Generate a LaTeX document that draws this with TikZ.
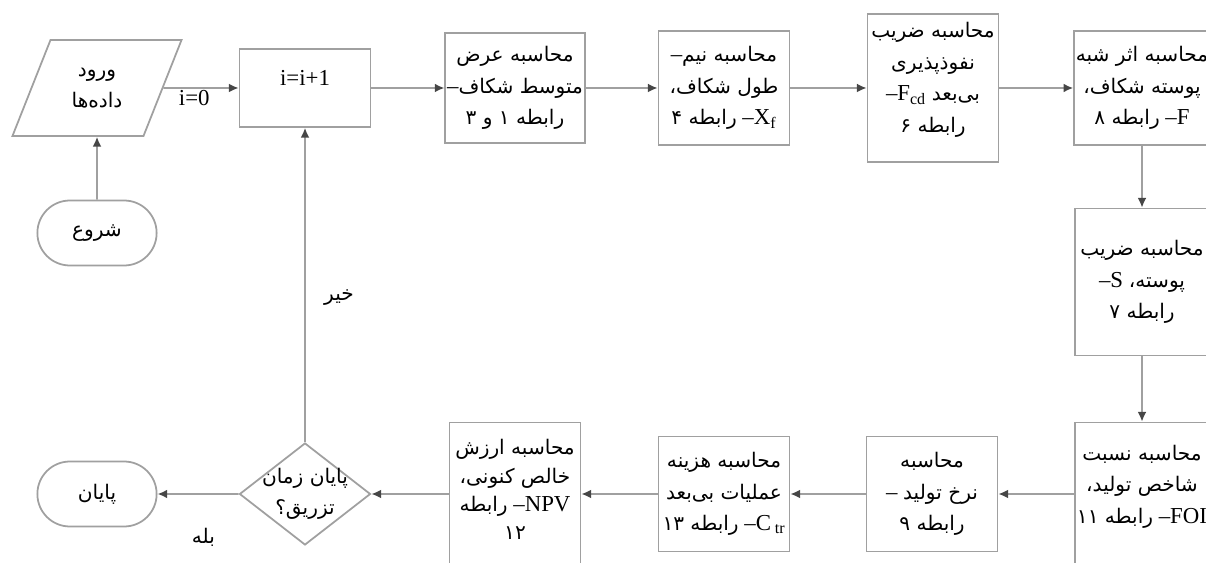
\documentclass[tikz,border=0pt]{standalone}
\usepackage{fontspec}
\setmainfont{Liberation Serif}
\newfontfamily\farsifont[Script=Arabic,Scale=0.88]{DejaVu Sans}
\TeXXeTstate=1
\usetikzlibrary{shapes.geometric,shapes.misc,arrows.meta}
\definecolor{linegray}{RGB}{160,160,160}
\definecolor{tipgray}{RGB}{70,70,70}
\newcommand\fa[1]{{\farsifont\beginR #1\endR}}
\tikzset{
	box/.style={draw=linegray,line width=1pt,fill=white,align=center,minimum width=2.62cm,inner sep=1pt},
	term/.style={draw=linegray,line width=1pt,rounded rectangle,minimum width=2.62cm,minimum height=1.3cm},
	arr/.style={draw=linegray,line width=1pt,-{Latex[length=5.5pt,width=5pt,color=tipgray]}},
}

\begin{document}
\begin{tikzpicture}[x=0.02cm,y=-0.02cm,font=\fontsize{13}{18}\selectfont]
	\useasboundingbox (0,0) rectangle (1206,563);
	\node[term] (start) at (97,233) {\fa{شروع}};
	\node[draw=linegray,line width=1pt,trapezium,trapezium left angle=64,trapezium right angle=116,trapezium stretches=true,minimum width=3.4cm,minimum height=1.92cm,align=center] (in) at (97,88) {\fa{ورود}\\\fa{داده‌ها}};
	\node[box,minimum height=1.56cm] (inc) at (305,88) {i=i+1\\[-6pt]\mbox{}};
	\node[box,minimum height=2.2cm] (b3) at (515,88) {\fa{محاسبه عرض}\\–\fa{متوسط شکاف}\\\fa{رابطه ۱ و ۳}};
	\node[box,minimum height=2.28cm] (b4) at (724,88) {–\fa{محاسبه نیم}\\\fa{طول شکاف،}\\\fa{رابطه ۴} –X\textsubscript{f}};
	\node[box,minimum height=2.96cm] (b5) at (933,88) {\fa{محاسبه ضریب}\\\fa{نفوذپذیری}\\–F\textsubscript{cd} \fa{بی‌بعد}\\\fa{رابطه ۶}\\[-6pt]\mbox{}};
	\node[box,minimum width=2.68cm,minimum height=2.28cm] (b6) at (1142,88) {\fa{محاسبه اثر شبه}\\\fa{پوسته شکاف،}\\\fa{رابطه ۸} –F};
	\node[box,minimum width=2.68cm,minimum height=2.94cm] (b7) at (1142,282) {\fa{محاسبه ضریب}\\–S \fa{پوسته،}\\\fa{رابطه ۷}};
	\node[box,minimum width=2.68cm,minimum height=3.1cm] (b8) at (1142,500) {\fa{محاسبه نسبت}\\\fa{شاخص تولید،}\\\fa{رابطه ۱۱} –FOI\\\mbox{}};
	\node[box,minimum height=2.3cm] (b9) at (932,494) {\fa{محاسبه}\\– \fa{نرخ تولید}\\\fa{رابطه ۹}};
	\node[box,minimum height=2.3cm] (b10) at (724,494) {\fa{محاسبه هزینه}\\\fa{عملیات بی‌بعد}\\\fa{رابطه ۱۳} –C\,\textsubscript{tr}};
	\node[box,minimum height=3.1cm,font=\fontsize{13}{16}\selectfont] (b11) at (515,500) {\fa{محاسبه ارزش}\\\fa{خالص کنونی،}\\\fa{رابطه} –NPV\\\fa{۱۲}\\[-4pt]\mbox{}};
	\node[draw=linegray,line width=1pt,diamond,fill=white,inner sep=0pt,minimum width=2.62cm,minimum height=2.04cm] (dec) at (305,494) {};
	\node[align=center] (dectext) at (dec) {\fa{پایان زمان}\\\fa{تزریق؟}};
	\node[term] (end) at (97,494) {\fa{پایان}};
	\draw[arr] (start) -- (in);
	\draw[arr] (in) -- node[below,inner sep=1pt,pos=0.41] {i=0} (inc);
	\draw[arr] (inc) -- (b3);
	\draw[arr] (b3) -- (b4);
	\draw[arr] (b4) -- (b5);
	\draw[arr] (b5) -- (b6);
	\draw[arr] (b6) -- (b7);
	\draw[arr] (b7) -- (b8);
	\draw[arr] (b8.west |- b9) -- (b9);
	\draw[arr] (b9) -- (b10);
	\draw[arr] (b10) -- (b10 -| b11.east);
	\draw[arr] (b11.west |- dec) -- (dec);
	\draw[arr] (dec) -- node[below=0.55cm,xshift=3pt] {\fa{بله}} (end);
	\draw[arr] (dec) -- node[right=0.25cm,pos=0.46] {\fa{خیر}} (inc);
\end{tikzpicture}
\end{document}
